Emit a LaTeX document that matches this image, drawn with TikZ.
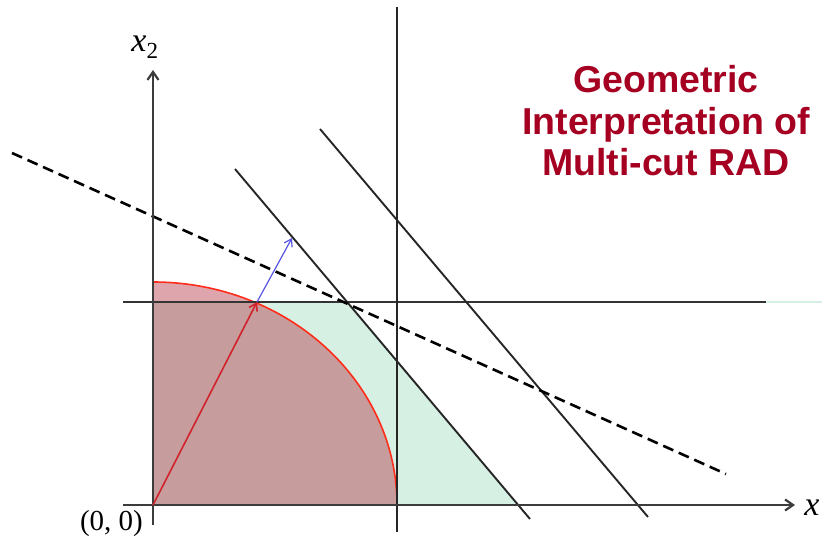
\documentclass[tikz,border=0pt]{standalone}
\usepackage{fontspec}
\setmainfont{Liberation Serif}
\newfontfamily\titlefont{Liberation Sans}
\usetikzlibrary{arrows.meta}
\definecolor{titlered}{RGB}{165,0,33}
\definecolor{feasgreen}{RGB}{214,240,228}
\definecolor{ballred}{RGB}{175,30,50}
\definecolor{rimred}{RGB}{255,45,25}
\definecolor{arrowred}{RGB}{210,35,45}
\definecolor{axisgray}{RGB}{60,60,60}
\definecolor{normalblue}{RGB}{85,85,225}

\begin{document}
\begin{tikzpicture}[x=1pt, y=1pt, every node/.style={font=\fontsize{29}{29}\selectfont},
    axis/.style={-{Straight Barb[length=8pt, width=11pt]}, line width=2.2pt, axisgray},
    cutline/.style={line width=1.9pt, black!85}]
    \useasboundingbox (-153,-33) rectangle (669,505);

    % --- Points ---
    \coordinate (O) at (0,0);
    \coordinate (P) at (104,203);
    \coordinate (Q) at (194,203);
    \coordinate (R) at (365,0);

    % --- Feasible region (green) ---
    \fill[feasgreen] (O) -- (0,203) -- (Q) -- (R) -- cycle;
    \draw[feasgreen, line width=2pt] (613,203) -- (669,203);

    % --- Ball (red quarter ellipse) ---
    \fill[ballred, fill opacity=0.4]
        (O) -- (0,223) arc[start angle=90, end angle=0, x radius=244, y radius=223] -- cycle;
    \draw[rimred, line width=1.6pt]
        (0,223) arc[start angle=90, end angle=0, x radius=244, y radius=223];

    % --- Horizontal and vertical bounds ---
    \draw[line width=2pt, black!80] (-30,203) -- (613,203);
    \draw[line width=1.9pt, black!85] (244,-27) -- (244,498);

    % --- Cuts ---
    \draw[cutline] (82,336) -- (377,-14);
    \draw[cutline] (167,376) -- (495,-12);
    \draw[black, line width=2.6pt, dash pattern=on 11pt off 6pt] (-141,352) -- (573,31);

    % --- Axes ---
    \draw[axis] (-30,0) -- (642,0);
    \draw[axis] (0,-20) -- (0,435);
    \node (xlab) at (659,-3) {\fontsize{34}{34}\selectfont\textit{x}};
    \node (x2lab) at (-8,458) {\fontsize{34}{34}\selectfont\textit{x}$_{\fontsize{23}{23}\selectfont\textrm{2}}$};
    \node (orig) at (-41.5,-19) {(0, 0)};

    % --- Direction vectors ---
    \draw[-{Straight Barb[length=7pt, width=9pt]}, line width=1.6pt, arrowred] (O) -- (P);
    \draw[-{Straight Barb[length=7pt, width=9pt]}, line width=1.2pt, normalblue] (P) -- (139,267);

    % --- Title ---
    \node[align=center, text=titlered, font=\titlefont\bfseries\fontsize{37.5}{41.5}\selectfont]
        (title) at (513,384) {Geometric\\Interpretation of\\Multi-cut RAD};
\end{tikzpicture}
\end{document}
